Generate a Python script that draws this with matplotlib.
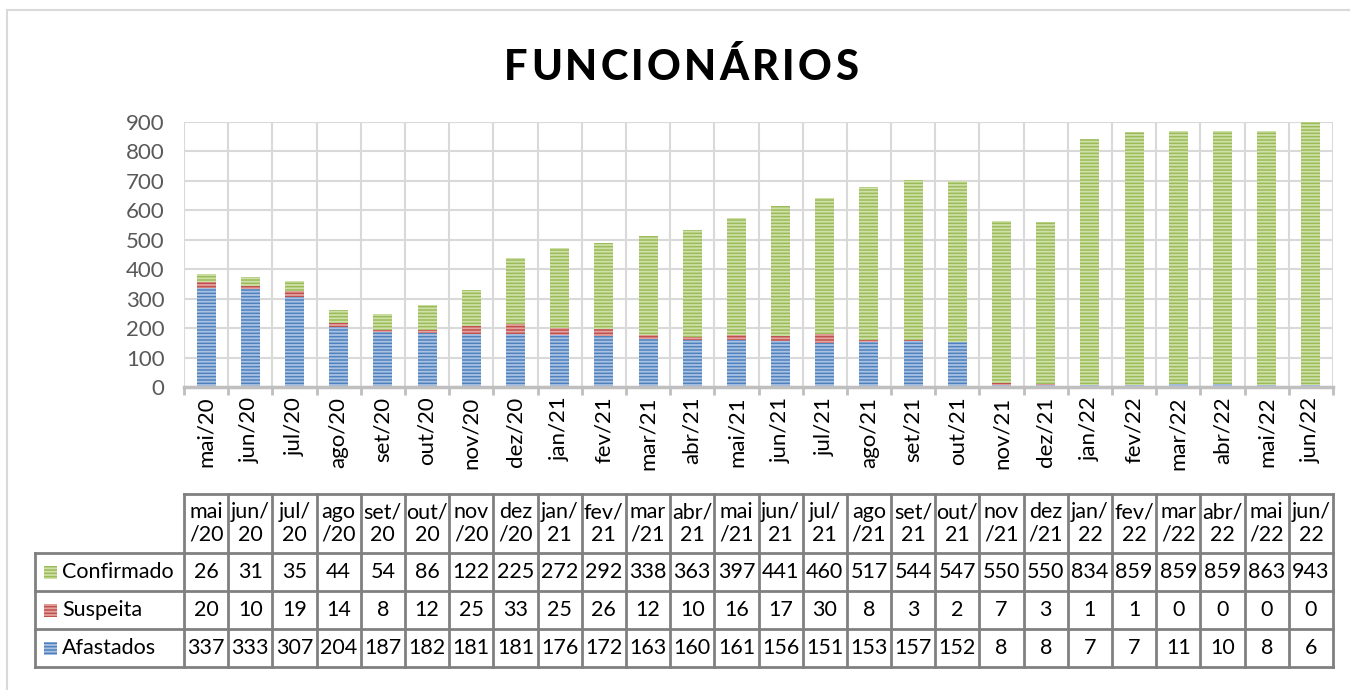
import numpy as np
import matplotlib.pyplot as plt
from matplotlib.patches import Rectangle

# ---------------------------- data ----------------------------
meses = ['mai/20', 'jun/20', 'jul/20', 'ago/20', 'set/20', 'out/20', 'nov/20', 'dez/20',
         'jan/21', 'fev/21', 'mar/21', 'abr/21', 'mai/21', 'jun/21', 'jul/21', 'ago/21',
         'set/21', 'out/21', 'nov/21', 'dez/21',
         'jan/22', 'fev/22', 'mar/22', 'abr/22', 'mai/22', 'jun/22']
confirmado = [26, 31, 35, 44, 54, 86, 122, 225, 272, 292, 338, 363, 397, 441, 460, 517,
              544, 547, 550, 550, 834, 859, 859, 859, 863, 943]
suspeita = [20, 10, 19, 14, 8, 12, 25, 33, 25, 26, 12, 10, 16, 17, 30, 8,
            3, 2, 7, 3, 1, 1, 0, 0, 0, 0]
afastados = [337, 333, 307, 204, 187, 182, 181, 181, 176, 172, 163, 160, 161, 156, 151, 153,
             157, 152, 8, 8, 7, 7, 11, 10, 8, 6]
yticks = [0, 100, 200, 300, 400, 500, 600, 700, 800, 900]
titulo = 'FUNCIONÁRIOS'

# wide month names get wrapped before the slash in the table header
largos = ['mai', 'ago', 'nov', 'dez', 'mar']
cabec = [m.replace('/', '\n/') if m[:3] in largos else m.replace('/', '/\n') for m in meses]

series = [('Afastados', afastados, '#4f81bd', '#a9c2e3'),
          ('Suspeita', suspeita, '#c0504d', '#e3a3a1'),
          ('Confirmado', confirmado, '#9bbb59', '#cfe0a8')]

# ---------------------------- style ----------------------------
W, H = 1350, 690
plt.rcParams['font.family'] = ['Lato', 'DejaVu Sans']
plt.rcParams['hatch.linewidth'] = 1.3
fig = plt.figure(figsize=(W / 100, H / 100), dpi=100)

ax_l, ax_r, ax_t, ax_b = 184, 1333, 122, 387
ax = fig.add_axes([ax_l / W, 1 - ax_b / H, (ax_r - ax_l) / W, (ax_b - ax_t) / H])

def ay(py):
    # pixel row -> axes fraction
    return (ax_b - py) / (ax_b - ax_t)

n = len(meses)
x = np.arange(n)
pxcat = (ax_r - ax_l) / n

def dx(px):
    # pixel column -> data x
    return -0.5 + (px - ax_l) / pxcat

base = np.zeros(n)
for nome, vals, cor, listra in series:
    ax.bar(x, vals, 0.43, bottom=base, color=cor, edgecolor=listra, hatch='-----',
           lw=0, zorder=3)
    base += np.array(vals)

ax.set_xlim(-0.5, n - 0.5)
ax.set_ylim(0, 900)
ax.set_yticks(yticks)
ax.set_xticks(x)
ax.set_xticklabels(meses, rotation=90, fontsize=16)
ax.set_xticks(np.arange(-0.5, n, 1), minor=True)

for s in ['top', 'right', 'left']:
    ax.spines[s].set_visible(False)
ax.spines['bottom'].set_color('#bfbfbf')
ax.spines['bottom'].set_linewidth(2.5)
ax.spines['bottom'].set_zorder(4)

ax.tick_params(axis='y', length=0, labelsize=16, labelcolor='#595959', pad=14)
ax.tick_params(axis='x', which='major', length=0, pad=7)
ax.tick_params(axis='x', which='minor', length=6, width=2, color='#bfbfbf')
ax.grid(axis='y', color='#d9d9d9', lw=1.5, zorder=0)
ax.grid(axis='x', which='minor', color='#d9d9d9', lw=1.5, zorder=0)

# ---------------------------- data table ----------------------------
tr = ax.get_xaxis_transform()
lc = '#808080'
rows = [494, 553, 591, 629, 667]
lbl_left = dx(35)
ax.plot([-0.5, n - 0.5], [ay(rows[0])] * 2, color=lc, lw=2, transform=tr, clip_on=False)
for r in rows[1:]:
    ax.plot([lbl_left, n - 0.5], [ay(r)] * 2, color=lc, lw=2, transform=tr, clip_on=False)
for b in np.arange(-0.5, n, 1):
    ax.plot([b, b], [ay(rows[0]), ay(rows[-1])], color=lc, lw=2, transform=tr, clip_on=False)
ax.plot([lbl_left, lbl_left], [ay(rows[1]), ay(rows[-1])], color=lc, lw=2,
        transform=tr, clip_on=False)

for i in range(n):
    ax.text(i, ay((rows[0] + rows[1]) / 2), cabec[i], ha='center', va='center',
            fontsize=15.5, linespacing=1.15, transform=tr)

ordem = series[::-1]
for k, (nome, vals, cor, listra) in enumerate(ordem):
    yc = ay((rows[k + 1] + rows[k + 2]) / 2)
    ax.add_patch(Rectangle((dx(44), yc - 6.5 / (ax_b - ax_t)), 13 / pxcat, 13 / (ax_b - ax_t),
                           facecolor=cor, edgecolor=listra, hatch='-----', lw=0,
                           transform=tr, clip_on=False))
    ax.text(dx(62), yc, nome, ha='left', va='center', fontsize=15.5, transform=tr)
    for i in range(n):
        ax.text(i, yc, str(vals[i]), ha='center', va='center', fontsize=15.5, transform=tr)

# ---------------------------- title (letter spaced) ----------------------------
r = fig.canvas.get_renderer()
letras = [fig.text(0, 1 - 68 / H, c, fontsize=30, fontweight='black', va='center')
          for c in titulo]
larg = [t.get_window_extent(r).width for t in letras]
esp = (354 - sum(larg)) / (len(letras) - 1)
px = 504
for t, w in zip(letras, larg):
    t.set_x(px / W)
    px += w + esp

# outer chart frame
fig.add_artist(Rectangle((7 / W, -0.1), 1.2, 1 - 10 / H + 0.1, transform=fig.transFigure,
                         fill=False, edgecolor='#d9d9d9', lw=1.5))

fig.savefig('out.png', dpi=100)
